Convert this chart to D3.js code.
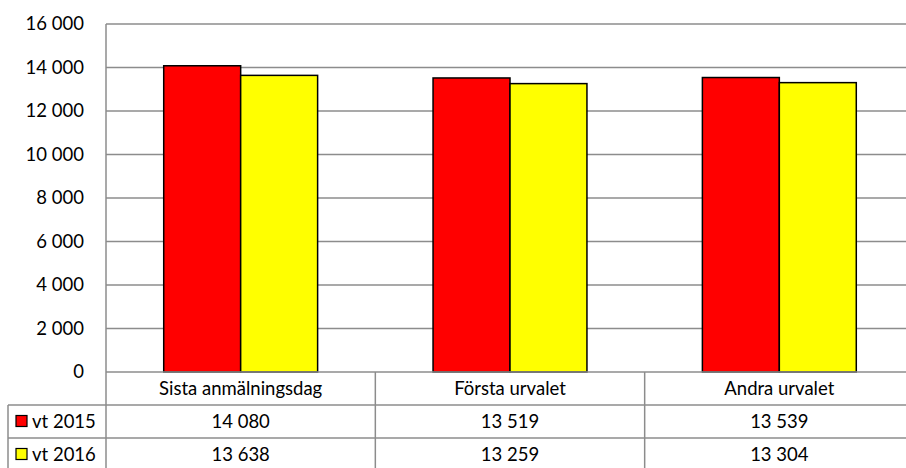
<!DOCTYPE html>
<meta charset="utf-8">
<style>
body { margin: 0; background: #fff; }
svg text { font-family: Lato, "Open Sans", sans-serif; font-size: 18.5px; fill: #000; }
.grid line { stroke: #8c8c8c; stroke-width: 1.5px; }
.tbl line { stroke: #8c8c8c; stroke-width: 1.5px; }
</style>
<body>
<div id="chart"></div>
<script src="https://cdn.jsdelivr.net/npm/d3@7"></script>
<script>
var categories = ["Sista anmälningsdag", "Första urvalet", "Andra urvalet"];
var seriesNames = ["vt 2015", "vt 2016"];
var vt2015 = [14080, 13519, 13539];
var vt2016 = [13638, 13259, 13304];
var yTicks = [0, 2000, 4000, 6000, 8000, 10000, 12000, 14000, 16000];
var colors = ["#ff0000", "#ffff00"];

var seriesValues = [vt2015, vt2016];
var W = 906, H = 468,
    plotLeft = 106, plotTop = 24, plotRight = 914, zeroY = 372,
    rowH = 33, tableLeft = 8;

var locale = d3.formatLocale({decimal: ",", thousands: "\u00a0", grouping: [3], currency: ["", " kr"]});
var fmt = locale.format(",d");

var svg = d3.select("#chart").append("svg").attr("width", W).attr("height", H);

var y = d3.scaleLinear().domain([0, 16000]).range([zeroY, plotTop]);
var x0 = d3.scaleBand().domain(categories).range([plotLeft, plotRight]).paddingInner(0).paddingOuter(0);
var x1 = d3.scaleBand().domain(seriesNames).range([0, x0.bandwidth()]).paddingInner(0).paddingOuter(0.75);

// gridlines
svg.append("g").attr("class", "grid")
  .selectAll("line").data(yTicks.filter(function(d){ return d > 0; })).enter().append("line")
  .attr("x1", plotLeft).attr("x2", W).attr("y1", function(d){ return y(d); }).attr("y2", function(d){ return y(d); });

// y labels
svg.append("g").selectAll("text").data(yTicks).enter().append("text")
  .attr("x", 84).attr("y", function(d){ return y(d); }).attr("dy", "0.35em")
  .attr("text-anchor", "end").text(function(d){ return fmt(d); });

// bars
var groups = svg.append("g").selectAll("g").data(categories).enter().append("g")
  .attr("transform", function(d){ return "translate(" + x0(d) + ",0)"; });
groups.selectAll("rect").data(function(c, ci){
    return seriesNames.map(function(s, si){ return {s: s, si: si, v: seriesValues[si][ci]}; });
  }).enter().append("rect")
  .attr("x", function(d){ return x1(d.s); })
  .attr("y", function(d){ return y(d.v); })
  .attr("width", x1.bandwidth())
  .attr("height", function(d){ return zeroY - y(d.v); })
  .attr("fill", function(d){ return colors[d.si]; })
  .attr("stroke", "#000").attr("stroke-width", 1.5);

// table lines
var tbl = svg.append("g").attr("class", "tbl");
tbl.append("line").attr("x1", plotLeft).attr("x2", plotLeft).attr("y1", plotTop).attr("y2", H);
tbl.append("line").attr("x1", plotLeft).attr("x2", W).attr("y1", zeroY).attr("y2", zeroY);
tbl.append("line").attr("x1", tableLeft).attr("x2", tableLeft).attr("y1", zeroY + rowH).attr("y2", H);
seriesNames.forEach(function(s, i){
  var yy = zeroY + rowH * (i + 1);
  tbl.append("line").attr("x1", tableLeft).attr("x2", W).attr("y1", yy).attr("y2", yy);
});
categories.slice(1).forEach(function(c){
  tbl.append("line").attr("x1", x0(c)).attr("x2", x0(c)).attr("y1", zeroY).attr("y2", H);
});

// category labels
svg.append("g").selectAll("text").data(categories).enter().append("text")
  .attr("x", function(d){ return x0(d) + x0.bandwidth() / 2; })
  .attr("y", zeroY + rowH / 2).attr("dy", "0.35em")
  .attr("text-anchor", "middle").text(function(d){ return d; });

// table rows
seriesNames.forEach(function(s, si){
  var cy = zeroY + rowH * (si + 1) + rowH / 2;
  svg.append("rect").attr("x", 16).attr("y", cy - 6).attr("width", 11).attr("height", 11)
    .attr("fill", colors[si]).attr("stroke", "#000").attr("stroke-width", 1.2);
  svg.append("text").attr("x", 32).attr("y", cy).attr("dy", "0.35em").text(s);
  svg.append("g").selectAll("text").data(categories).enter().append("text")
    .attr("x", function(d){ return x0(d) + x0.bandwidth() / 2; })
    .attr("y", cy).attr("dy", "0.35em").attr("text-anchor", "middle")
    .text(function(d, ci){ return fmt(seriesValues[si][ci]); });
});
</script>
